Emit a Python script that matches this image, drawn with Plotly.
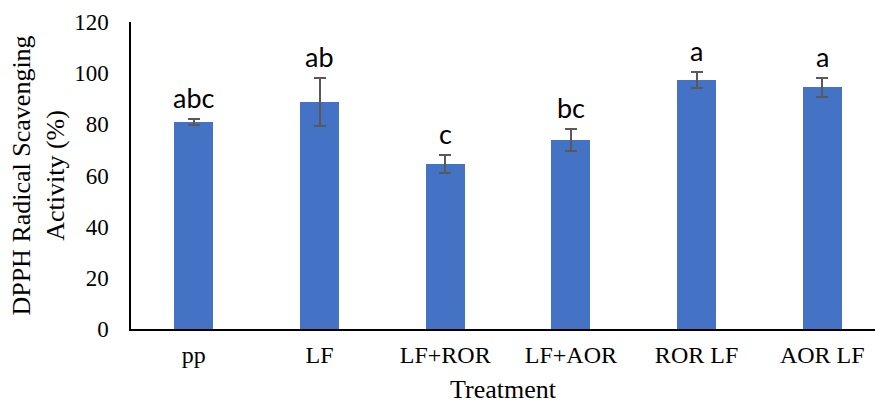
import plotly.graph_objects as go

categories = ["pp", "LF", "LF+ROR", "LF+AOR", "ROR LF", "AOR LF"]
values = [80.8, 88.6, 64.5, 73.9, 97.3, 94.4]
errors = [1.2, 9.4, 3.7, 4.3, 3.0, 3.7]
letters = ["abc", "ab", "c", "bc", "a", "a"]
y_ticks = [0, 20, 40, 60, 80, 100, 120]

serif = "Liberation Serif, Times New Roman, serif"

fig = go.Figure()
fig.add_trace(go.Bar(
    x=categories, y=values, width=0.31,
    marker=dict(color="#4472C4", line=dict(width=0)),
    error_y=dict(type="data", array=errors, visible=True,
                 color="#595959", thickness=2, width=6),
))

for c, v, e, t in zip(categories, values, errors, letters):
    fig.add_annotation(x=c, y=v + e, text=t, showarrow=False,
                       yanchor="bottom", yshift=3,
                       font=dict(family="Lato, Carlito, sans-serif", size=27, color="black"))

fig.add_annotation(x=0.5, y=0, xref="paper", yref="paper", text="Treatment",
                   showarrow=False, yanchor="middle", yshift=-60,
                   font=dict(family=serif, size=26, color="black"))

fig.update_layout(
    width=875, height=403,
    margin=dict(l=131, r=0, t=22, b=74),
    plot_bgcolor="white", paper_bgcolor="white",
    showlegend=False,
    bargap=0,
)
fig.update_xaxes(
    range=[-0.5, 5.42], automargin=False,
    showline=True, linecolor="black", linewidth=2,
    showgrid=False, ticks="", ticklabelstandoff=3,
    tickfont=dict(family=serif, size=24, color="black"),
)
fig.update_yaxes(
    range=[0, 120], tickvals=y_ticks, automargin=False,
    showline=True, linecolor="black", linewidth=1.5,
    showgrid=False, zeroline=False, ticks="", ticklabelstandoff=16,
    tickfont=dict(family=serif, size=23, color="black"),
    title=dict(text="DPPH Radical Scavenging<br>Activity (%)",
               font=dict(family=serif, size=26, color="black"), standoff=2),
)

fig.write_html("out.html")
